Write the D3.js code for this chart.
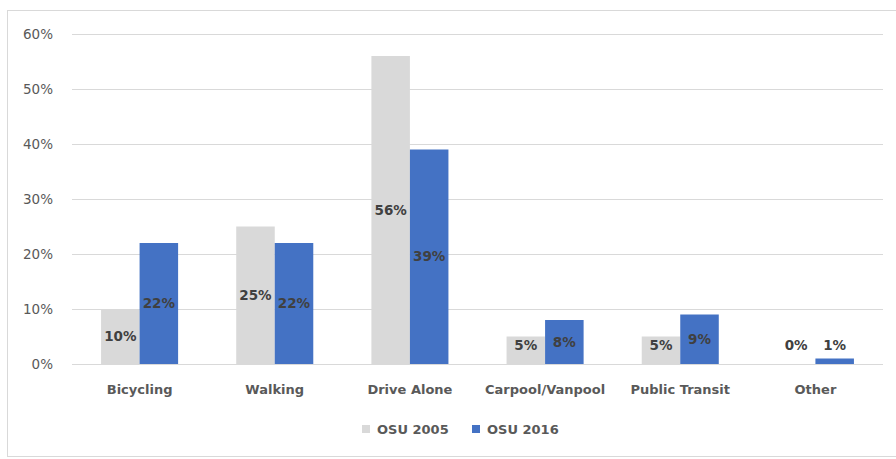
<!DOCTYPE html>
<html>
<head>
<meta charset="utf-8">
<script src="https://cdn.jsdelivr.net/npm/d3@7"></script>
<style>
  html, body { margin: 0; padding: 0; background: #fff; }
  svg { display: block; }
  text { font-family: "DejaVu Sans", sans-serif; }
</style>
</head>
<body>
<svg id="chart" width="896" height="459"></svg>
<script>
// Commute mode share, OSU survey years
const categories = ["Bicycling", "Walking", "Drive Alone", "Carpool/Vanpool", "Public Transit", "Other"];
const seriesNames = ["OSU 2005", "OSU 2016"];
const osu2005 = [10, 25, 56, 5, 5, 0];
const osu2016 = [22, 22, 39, 8, 9, 1];
const yTicks = [0, 10, 20, 30, 40, 50, 60];
const colors = ["#d9d9d9", "#4472c4"];

const svg = d3.select("#chart");
const W = 896;

// chart frame
svg.append("rect")
  .attr("x", 7.5).attr("y", 10.5)
  .attr("width", W).attr("height", 446)
  .attr("fill", "#fff").attr("stroke", "#d9d9d9").attr("stroke-width", 1);

const plot = { left: 72, right: 883, top: 34, bottom: 364 };

const x0 = d3.scaleBand()
  .domain(categories)
  .range([plot.left, plot.right])
  .paddingInner(0.43)
  .paddingOuter(0.215);

const x1 = d3.scaleBand()
  .domain(seriesNames)
  .range([0, x0.bandwidth()])
  .padding(0);

const y = d3.scaleLinear()
  .domain([0, 60])
  .range([plot.bottom, plot.top]);

// gridlines
svg.append("g")
  .selectAll("line")
  .data(yTicks)
  .join("line")
  .attr("x1", plot.left).attr("x2", plot.right)
  .attr("y1", d => Math.round(y(d)) + 0.5)
  .attr("y2", d => Math.round(y(d)) + 0.5)
  .attr("stroke", "#d9d9d9").attr("stroke-width", 1);

// y axis labels
const yAxis = d3.axisLeft(y)
  .tickValues(yTicks)
  .tickFormat(d => d + "%")
  .tickSize(0)
  .tickPadding(0);
const yg = svg.append("g")
  .attr("transform", `translate(53,0)`)
  .call(yAxis);
yg.select(".domain").remove();
yg.selectAll("text")
  .attr("font-size", 13.5)
  .attr("fill", "#595959")
  .attr("font-family", "DejaVu Sans, sans-serif");

// bars
const rows = categories.map((c, i) => ({ cat: c, vals: [osu2005[i], osu2016[i]] }));

const groups = svg.append("g")
  .selectAll("g")
  .data(rows)
  .join("g")
  .attr("transform", d => `translate(${x0(d.cat)},0)`);

groups.selectAll("rect")
  .data(d => d.vals.map((v, k) => ({ v, s: seriesNames[k], k })))
  .join("rect")
  .attr("x", d => x1(d.s))
  .attr("width", x1.bandwidth())
  .attr("y", d => y(d.v))
  .attr("height", d => y(0) - y(d.v))
  .attr("fill", d => colors[d.k]);

// value labels, centered in the bar (lifted above the baseline for short bars)
groups.selectAll("text.val")
  .data(d => d.vals.map((v, k) => ({ v, s: seriesNames[k], k })))
  .join("text")
  .attr("class", "val")
  .attr("x", d => x1(d.s) + x1.bandwidth() / 2)
  .attr("y", d => Math.min((y(d.v) + y(0)) / 2, y(0) - 19))
  .attr("dy", "0.35em")
  .attr("text-anchor", "middle")
  .attr("font-size", 13.5)
  .attr("font-weight", "bold")
  .attr("fill", "#404040")
  .text(d => d.v + "%");

// category axis labels
const xAxis = d3.axisBottom(x0).tickSize(0).tickPadding(0);
const xg = svg.append("g")
  .attr("transform", `translate(0,389)`)
  .call(xAxis);
xg.select(".domain").remove();
xg.selectAll("text")
  .attr("y", 0)
  .attr("dy", "0.35em")
  .attr("font-size", 13)
  .attr("font-weight", "bold")
  .attr("fill", "#595959")
  .attr("font-family", "DejaVu Sans, sans-serif");

// legend
const legendItems = [
  { name: seriesNames[0], color: colors[0], x: 362 },
  { name: seriesNames[1], color: colors[1], x: 472 }
];
const lg = svg.append("g");
legendItems.forEach(it => {
  lg.append("rect")
    .attr("x", it.x).attr("y", 425)
    .attr("width", 8).attr("height", 8)
    .attr("fill", it.color);
  lg.append("text")
    .attr("x", it.x + 15).attr("y", 429)
    .attr("dy", "0.35em")
    .attr("font-size", 13)
    .attr("font-weight", "bold")
    .attr("fill", "#595959")
    .text(it.name);
});
</script>
</body>
</html>
